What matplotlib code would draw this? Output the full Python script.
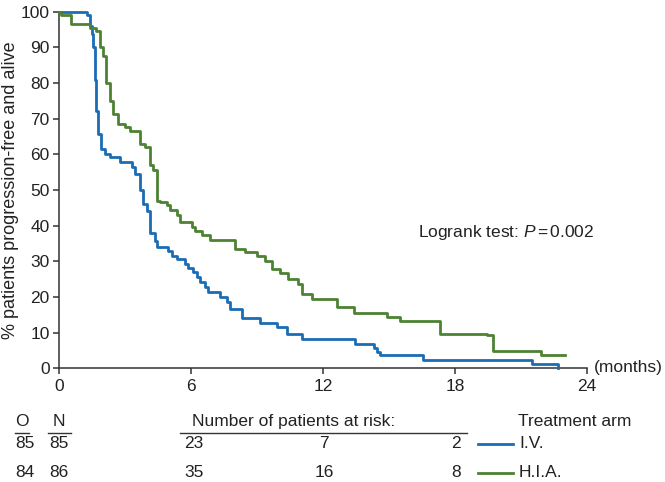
import matplotlib
matplotlib.use('Agg')
import matplotlib.pyplot as plt
from matplotlib.lines import Line2D

plt.rcParams['font.family'] = ['Liberation Sans', 'DejaVu Sans']
plt.rcParams['mathtext.fontset'] = 'custom'
plt.rcParams['mathtext.rm'] = 'Liberation Sans'
plt.rcParams['mathtext.it'] = 'Liberation Sans:italic'

# ---- data ----
iv_months = [0, 1.24, 1.39, 1.47, 1.54, 1.62, 1.69, 1.77, 1.92, 2.07, 2.3, 2.76, 3.29, 3.44,
             3.67, 3.82, 3.97, 4.12, 4.35, 4.43, 4.96, 5.11, 5.34, 5.72, 5.87, 6.1, 6.25,
             6.4, 6.63, 6.78, 7.31, 7.62, 7.77, 8.3, 9.13, 9.9, 10.35, 11.03, 13.46, 14.3,
             14.45, 14.6, 16.57, 21.5, 22.7]
iv_pct = [100, 99, 96, 93.6, 90, 80.7, 72, 65.8, 61.6, 60.2, 59.2, 57.8, 56.3, 54.5,
          50, 46, 44, 37.8, 35.8, 34, 33, 31.6, 30.7, 29.3, 28, 27, 25.6,
          24.2, 22.8, 21.4, 20, 18.6, 16.7, 14, 12.7, 11.6, 9.5, 8.1, 6.9, 5.8,
          4.7, 3.6, 2.2, 1.3, 0]

hia_months = [0, 0.1, 0.51, 1.39, 1.69, 1.85, 2.0, 2.12, 2.3, 2.45, 2.68, 2.98, 3.21, 3.67,
              3.9, 4.12, 4.27, 4.43, 4.58, 4.88, 5.03, 5.34, 5.49, 6.02, 6.17, 6.48, 6.86,
              8.0, 8.45, 8.98, 9.36, 9.67, 10.05, 10.42, 10.88, 11.03, 11.49, 12.63, 13.39,
              14.9, 15.5, 17.33, 19.46, 19.75, 21.9, 23.0]
hia_pct = [100, 98.9, 96.6, 95.5, 94.4, 90, 87.6, 80, 75, 71.4, 68.6, 67.6, 66.6, 63,
           62, 57, 55.5, 47, 46.6, 45.7, 44.3, 43, 41, 39.6, 38.4, 37.3, 36,
           33.5, 32.6, 31.4, 30.2, 27.9, 26.6, 25.1, 23.7, 20.9, 19.3, 17.2, 15.6,
           14.4, 13.2, 9.7, 9.3, 4.9, 3.6, 3.6]

x_ticks = [0, 6, 12, 18, 24]
y_ticks = [0, 10, 20, 30, 40, 50, 60, 70, 80, 90, 100]

arm_names = ['I.V.', 'H.I.A.']
observed = ['85', '84']
n_patients = ['85', '86']
at_risk = [['23', '7', '2'], ['35', '16', '8']]

BLUE = '#1a6db5'
GREEN = '#4c8233'
AXC = '#333333'
TXT = '#222222'
FS = 12.5

W, H = 665, 482
fig = plt.figure(figsize=(W / 100, H / 100), dpi=100)


def fx(px):
    return px / W


def fy(py):
    return 1 - py / H


ax = fig.add_axes([fx(59.3), fy(368.3), fx(586.7) - fx(59.3), fy(11.5) - fy(368.3)])
ax.step(iv_months, iv_pct, where='post', color=BLUE, lw=2.0, clip_on=False, zorder=3)
ax.step(hia_months, hia_pct, where='post', color=GREEN, lw=2.0, clip_on=False, zorder=3)

ax.set_xlim(0, 24)
ax.set_ylim(0, 100)
ax.set_xticks(x_ticks)
ax.set_xticklabels([str(v) for v in x_ticks])
ax.set_yticks(y_ticks)
ax.set_yticklabels([str(v) for v in y_ticks])
for s in ['top', 'right']:
    ax.spines[s].set_visible(False)
for s in ['left', 'bottom']:
    ax.spines[s].set_color(AXC)
    ax.spines[s].set_linewidth(1.1)
ax.tick_params(axis='both', direction='out', length=4, width=1.1, color=AXC,
               labelsize=FS, labelcolor=TXT)
ax.tick_params(axis='x', pad=4)
ax.tick_params(axis='y', pad=3)

fig.text(fx(11), fy(190), '% patients progression-free and alive', rotation=90,
         ha='center', va='center', fontsize=13, color=TXT)
fig.text(fx(594), fy(372), '(months)', ha='left', va='baseline', fontsize=FS, color=TXT)
fig.text(fx(418), fy(237), r'Logrank test: $P\,$=$\,$0.002', ha='left', va='baseline',
         fontsize=FS, color=TXT)

# ---- risk table ----
hdr_b, r1_b, r2_b = 426, 447.5, 477
row_b = [r1_b, r2_b]
fig.text(fx(22), fy(hdr_b), 'O', ha='center', va='baseline', fontsize=FS, color=TXT)
fig.text(fx(59), fy(hdr_b), 'N', ha='center', va='baseline', fontsize=FS, color=TXT)
fig.text(fx(192), fy(hdr_b), 'Number of patients at risk:', ha='left', va='baseline',
         fontsize=FS, color=TXT)
fig.text(fx(518), fy(hdr_b), 'Treatment arm', ha='left', va='baseline', fontsize=FS,
         color=TXT)

for (x0, x1) in [(15, 29), (48, 71), (180, 467)]:
    fig.add_artist(Line2D([fx(x0), fx(x1)], [fy(432.5), fy(432.5)], color=AXC, lw=1.0))

colors = [BLUE, GREEN]
for i in range(2):
    b = row_b[i]
    fig.text(fx(25), fy(b), observed[i], ha='center', va='baseline', fontsize=FS, color=TXT)
    fig.text(fx(59), fy(b), n_patients[i], ha='center', va='baseline', fontsize=FS, color=TXT)
    fig.text(fx(184), fy(b), at_risk[i][0], ha='left', va='baseline', fontsize=FS, color=TXT)
    fig.text(fx(324), fy(b), at_risk[i][1], ha='center', va='baseline', fontsize=FS, color=TXT)
    fig.text(fx(461), fy(b), at_risk[i][2], ha='right', va='baseline', fontsize=FS, color=TXT)
    fig.add_artist(Line2D([fx(478), fx(513)], [fy(b - 4), fy(b - 4)], color=colors[i], lw=2.0))
    fig.text(fx(519), fy(b), arm_names[i], ha='left', va='baseline', fontsize=FS, color=TXT)

fig.savefig('out.png', dpi=100)
